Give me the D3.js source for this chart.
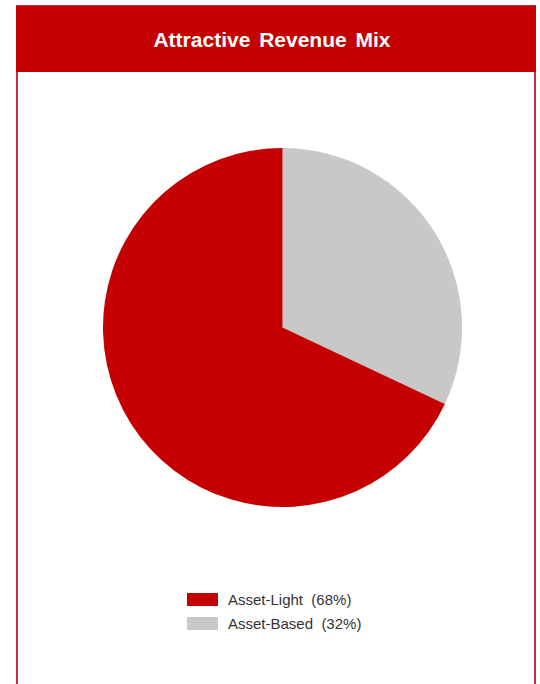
<!DOCTYPE html>
<html>
<head>
<meta charset="utf-8">
<script src="https://cdn.jsdelivr.net/npm/d3@7.9.0/dist/d3.min.js"></script>
<style>
  body { margin: 0; background: #fff; }
  svg { display: block; font-family: "Liberation Sans", Arial, sans-serif; }
</style>
</head>
<body>
<svg id="chart" width="540" height="684"></svg>
<script>
// slices in drawing order (clockwise from 12 o'clock)
const labels = ["Asset-Based", "Asset-Light"];
const shares = [32, 68];
const colors = ["#c8c8c8", "#c40000"];
// legend order as shown
const legendOrder = ["Asset-Light", "Asset-Based"];

const svg = d3.select("#chart");
const W = 540, H = 684;

// panel frame
svg.append("rect")
    .attr("x", 17).attr("y", 6)
    .attr("width", 518).attr("height", H)
    .attr("fill", "none")
    .attr("stroke", "#c8313a")
    .attr("stroke-width", 2);

// header band
svg.append("rect")
    .attr("x", 16).attr("y", 6)
    .attr("width", 520).attr("height", 66)
    .attr("fill", "#c40000");

svg.append("text")
    .attr("x", 272).attr("y", 47)
    .attr("text-anchor", "middle")
    .attr("fill", "#fff")
    .attr("font-weight", "bold")
    .attr("font-size", 21)
    .style("word-spacing", "3px")
    .text("Attractive Revenue Mix");

// pie
const data = labels.map((l, i) => ({ label: l, value: shares[i], color: colors[i] }));
const pie = d3.pie().sort(null).value(d => d.value);
const arc = d3.arc().innerRadius(0).outerRadius(179.5);

const g = svg.append("g").attr("transform", "translate(282.5,327.5)");
g.selectAll("path")
    .data(pie(data))
    .join("path")
    .attr("d", arc)
    .attr("fill", d => d.data.color);

// legend
const legend = svg.append("g").attr("transform", "translate(187,593)");
legendOrder.forEach((name, i) => {
    const d = data.find(x => x.label === name);
    const row = legend.append("g").attr("transform", `translate(0,${i * 24})`);
    row.append("rect")
        .attr("width", 31).attr("height", 13)
        .attr("fill", d.color);
    row.append("text")
        .attr("x", 41).attr("y", 12)
        .attr("font-size", 15)
        .attr("fill", "#333")
        .style("white-space", "pre")
        .text(`${d.label}  (${d.value}%)`);
});
</script>
</body>
</html>
